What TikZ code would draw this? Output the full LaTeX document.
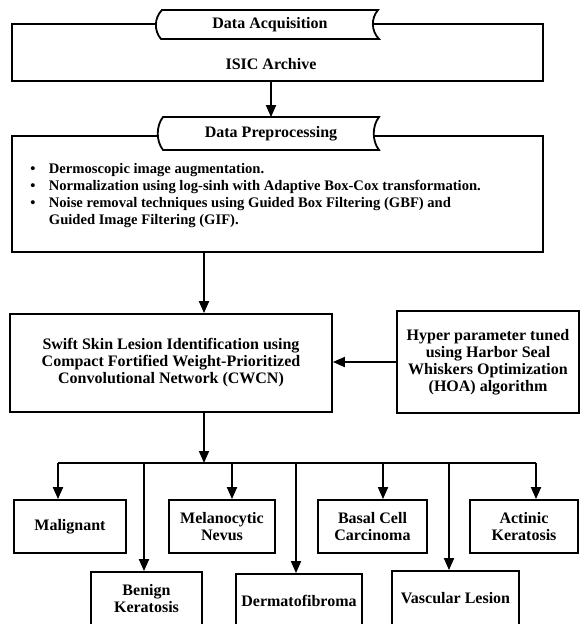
\documentclass[tikz,border=0pt]{standalone}
\usepackage{fontspec}
\setmainfont{Liberation Serif}
\usetikzlibrary{arrows.meta}

\begin{document}
\begin{tikzpicture}[x=1pt,y=-1pt,>={Triangle[length=12pt,width=10pt]},
  every node/.append style={font=\bfseries\fontsize{16}{17}\selectfont},
  every path/.append style={line width=1.8pt},
  panel/.style={draw,inner sep=0pt},
  tapetext/.style={inner sep=0pt,minimum width=216pt,minimum height=31pt},
  card/.style={draw,align=center,inner sep=0pt}]
  \useasboundingbox (0,0) rectangle (581,624);

  % acquisition
  \node[panel,minimum width=531pt,minimum height=57pt] (acq) at (277.5,52.5) {};
  \draw[fill=white] (162,10) -- (378,10) .. controls (371,18) and (371,31) .. (379,39)
    -- (161,39) .. controls (154,31) and (154,18) .. (162,10) -- cycle;
  \node[tapetext] (acqt) at (270,24.5) {Data Acquisition};
  \node (isic) at (271,64) {ISIC Archive};

  % preprocessing
  \node[panel,minimum width=531pt,minimum height=116pt] (prep) at (277.5,194) {};
  \draw[fill=white] (163,117) -- (379,117) .. controls (372,126) and (372,141) .. (379,150)
    -- (163,150) .. controls (156,141) and (156,126) .. (163,117) -- cycle;
  \node[tapetext] (prept) at (271,133.5) {Data Preprocessing};
  \draw[->] (acq.south -| prept.north) -- (prept.north);
  \node[anchor=north west,align=left,inner sep=0pt,font=\bfseries\fontsize{14.6}{17}\selectfont]
    (steps) at (29.5,162.5)
    {\makebox[18.5pt][l]{\textbullet}Dermoscopic image augmentation.\\
     \makebox[18.5pt][l]{\textbullet}Normalization using log-sinh with Adaptive Box-Cox transformation.\\
     \makebox[18.5pt][l]{\textbullet}Noise removal techniques using Guided Box Filtering (GBF) and\\
     \hspace*{18.5pt}Guided Image Filtering (GIF).};

  % model and tuning
  \coordinate (spine) at (204,463);
  \node[card,minimum width=322pt,minimum height=98pt] (cwcn) at (171,363)
    {Swift Skin Lesion Identification using\\Compact Fortified Weight-Prioritized\\Convolutional Network (CWCN)};
  \node[card,minimum width=182pt,minimum height=102pt] (hoa) at (488,362)
    {Hyper parameter tuned\\using Harbor Seal\\Whiskers Optimization\\(HOA) algorithm};
  \draw[->] (prep.south -| spine) -- (cwcn.north -| spine);
  \draw[->] (hoa.west) -- (hoa.west -| cwcn.east);
  \draw[->] (cwcn.south -| spine) -- (spine);

  % classes
  \node[card,minimum width=112pt,minimum height=53pt] (mal) at (70,526.5) {Malignant};
  \node[card,minimum width=106pt,minimum height=53pt] (mel) at (222,526.5) {Melanocytic\\Nevus};
  \node[card,minimum width=109pt,minimum height=53pt] (bcc) at (372.5,526.5) {Basal Cell\\Carcinoma};
  \node[card,minimum width=108pt,minimum height=53pt] (act) at (524,526.5) {Actinic\\Keratosis};
  \node[card,minimum width=111pt,minimum height=54pt] (ben) at (146.5,599) {Benign\\Keratosis};
  \node[card,minimum width=126pt,minimum height=54pt] (der) at (299,601) {Dermatofibroma};
  \node[card,minimum width=127pt,minimum height=54pt] (vas) at (455.5,598) {Vascular Lesion};
  \foreach \x/\n in {58/mal,144/ben,232/mel,296/der,383/bcc,449/vas,536/act}{
    \coordinate (d\n) at (\x,463);
    \draw[->] (d\n) -- (\n.north -| d\n);
  }
  \draw (dmal) -- (dact);
\end{tikzpicture}
\end{document}
